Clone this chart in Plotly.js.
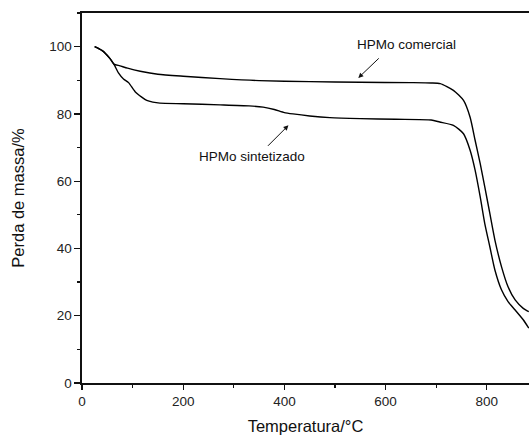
<!DOCTYPE html>
<html>
<head>
<meta charset="utf-8">
<script src="https://cdn.plot.ly/plotly-3.0.1.min.js"></script>
<style>html,body{margin:0;padding:0;overflow:hidden;background:#fff}#chart{width:529px;height:436px}</style>
</head>
<body>
<div id="chart"></div>
<script>
// HPMo comercial
const comT = [25, 40, 55, 63, 75, 90, 115, 150, 200, 273, 350, 450, 550, 650, 690, 708, 734, 754, 767, 777, 787, 796, 806, 816, 829, 842, 856, 872, 883];
const comM = [100, 98.8, 96.5, 94.8, 94.3, 93.6, 92.7, 91.8, 91.2, 90.5, 89.9, 89.6, 89.4, 89.3, 89.2, 89.0, 87.0, 84.0, 79.0, 72.1, 65.2, 58.3, 50.4, 42.5, 34.6, 28.6, 24.7, 22.2, 21.2];
// HPMo sintetizado
const sinT = [25, 40, 55, 63, 72, 82, 92, 105, 118, 128, 140, 154, 200, 273, 330, 358, 380, 400, 417, 450, 490, 550, 620, 690, 707, 734, 754, 767, 777, 787, 796, 806, 816, 829, 842, 856, 872, 883];
const sinM = [100, 98.8, 96.5, 94.8, 92.2, 90.4, 89.3, 86.6, 85.0, 84.0, 83.5, 83.2, 83.0, 82.7, 82.4, 82.0, 81.3, 80.4, 80.0, 79.4, 78.9, 78.6, 78.4, 78.2, 77.6, 76.6, 74.1, 69.2, 63.2, 55.3, 47.4, 40.5, 33.6, 27.7, 24.2, 21.7, 18.8, 16.3];

const xTicks = [0, 200, 400, 600, 800];
const yTicks = [0, 20, 40, 60, 80, 100];

const labels = ["HPMo comercial", "HPMo sintetizado"];

const font = "Liberation Sans, Arial, sans-serif";

const traces = [
  {x: comT, y: comM, mode: "lines", line: {color: "#000", width: 1.4, shape: "spline", smoothing: 0.6}, name: labels[0], hoverinfo: "skip"},
  {x: sinT, y: sinM, mode: "lines", line: {color: "#000", width: 1.4, shape: "spline", smoothing: 0.6}, name: labels[1], hoverinfo: "skip"}
];

const layout = {
  width: 529, height: 436,
  margin: {l: 82, r: 0, t: 13, b: 53},
  paper_bgcolor: "#fff", plot_bgcolor: "#fff",
  showlegend: false,
  font: {family: font, color: "#222", size: 13},
  xaxis: {
    range: [0, 883.4], tickvals: xTicks, ticktext: xTicks.map(String),
    showgrid: false, zeroline: false, showline: true, linecolor: "#111", linewidth: 1.6,
    mirror: true, ticks: "outside", ticklen: 5, tickwidth: 1.3, tickcolor: "#111",
    minor: {dtick: 100, tick0: 0, ticks: "outside", ticklen: 3, tickwidth: 1.2, tickcolor: "#111"},
    tickfont: {family: font, size: 13.5, color: "#222"},
    title: {text: "Temperatura/°C", font: {family: font, size: 16.5, color: "#111"}, standoff: 12}
  },
  yaxis: {
    range: [0, 110], tickvals: yTicks, ticktext: yTicks.map(String),
    showgrid: false, zeroline: false, showline: true, linecolor: "#111", linewidth: 1.6,
    ticks: "outside", ticklen: 6, tickwidth: 1.3, tickcolor: "#111",
    minor: {dtick: 10, tick0: 0, ticks: "outside", ticklen: 3, tickwidth: 1.2, tickcolor: "#111"},
    tickfont: {family: font, size: 13.5, color: "#222"},
    title: {text: "Perda de massa/%", font: {family: font, size: 16.5, color: "#111"}, standoff: 20}
  },
  annotations: [
    {x: 641, y: 100.6, xref: "x", yref: "y", text: labels[0], showarrow: false, font: {family: font, size: 13.5, color: "#111"}},
    {x: 546, y: 90.7, xref: "x", yref: "y", text: "", showarrow: true, arrowhead: 2, arrowsize: 1, arrowwidth: 1, arrowcolor: "#111", ax: 22, ay: -21},
    {x: 336, y: 67.4, xref: "x", yref: "y", text: labels[1], showarrow: false, font: {family: font, size: 13.5, color: "#111"}},
    {x: 408, y: 76.6, xref: "x", yref: "y", text: "", showarrow: true, arrowhead: 2, arrowsize: 1, arrowwidth: 1, arrowcolor: "#111", ax: -22, ay: 22}
  ]
};

Plotly.newPlot("chart", traces, layout, {displayModeBar: false, staticPlot: true});
</script>
</body>
</html>
